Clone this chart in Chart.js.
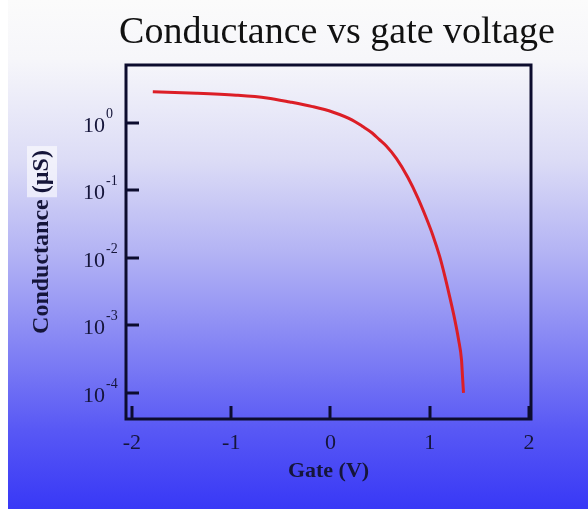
<!DOCTYPE html>
<html>
<head>
<meta charset="utf-8">
<script src="https://cdn.jsdelivr.net/npm/chart.js@4/dist/chart.umd.min.js"></script>
<style>
  html, body { margin: 0; padding: 0; background: #ffffff; }
  #wrap {
    position: absolute; left: 8px; top: 0; width: 580px; height: 509px;
    background: linear-gradient(to bottom, #fbfbfb 0px, #f6f6fa 60px, #dcdcf6 160px, #b0b0f4 260px, #8282f4 350px, #5858f5 430px, #3838f6 509px);
  }
  #c { position: absolute; left: -8px; top: 0; }
</style>
</head>
<body>
<div id="wrap"><canvas id="c" width="588" height="509"></canvas></div>
<script>
// ---- data ----
const gateVoltage = [-1.79, -1.35, -0.95, -0.64, -0.41, -0.18, 0.02, 0.22, 0.32, 0.42, 0.49, 0.56, 0.665, 0.78, 0.88, 0.96, 1.03, 1.10, 1.15, 1.20, 1.25, 1.29, 1.32, 1.33, 1.34];
const conductance = [2.88, 2.75, 2.57, 2.34, 2.04, 1.74, 1.45, 1.10, 0.891, 0.708, 0.569, 0.457, 0.295, 0.155, 0.0776, 0.0407, 0.0219, 0.0105, 0.0055, 0.00269, 0.00126, 0.000617, 0.000309, 0.000174, 0.0001];
const xTickValues = [-2, -1, 0, 1, 2];
const xTickLabels = ['-2', '-1', '0', '1', '2'];
const yTickValues = [1, 0.1, 0.01, 0.001, 0.0001];
const yTickExponents = ['0', '-1', '-2', '-3', '-4'];
const titleText = 'Conductance vs gate voltage';
const xTitle = 'Gate (V)';
const yTitleMain = 'Conductance ';
const yTitleUnit = '(µS)';

const points = gateVoltage.map((v, i) => ({ x: v, y: conductance[i] }));

const ink = '#0c0c2e';
const serif = '"Liberation Serif", "DejaVu Serif", serif';

const decor = {
  id: 'decor',
  afterDraw(chart) {
    const ctx = chart.ctx;
    const a = chart.chartArea;
    const xs = chart.scales.x, ys = chart.scales.y;
    ctx.save();
    // frame
    ctx.strokeStyle = ink;
    ctx.lineWidth = 3;
    ctx.strokeRect(a.left, a.top, a.right - a.left, a.bottom - a.top);
    // inward ticks
    xTickValues.forEach(v => {
      const px = Math.round(xs.getPixelForValue(v));
      ctx.beginPath(); ctx.moveTo(px, a.bottom); ctx.lineTo(px, a.bottom - 13); ctx.stroke();
    });
    yTickValues.forEach(v => {
      const py = Math.round(ys.getPixelForValue(v));
      ctx.beginPath(); ctx.moveTo(a.left, py); ctx.lineTo(a.left + 13, py); ctx.stroke();
    });
    // x tick labels
    ctx.fillStyle = '#15153a';
    ctx.font = '22px ' + serif;
    ctx.textAlign = 'center';
    ctx.textBaseline = 'middle';
    xTickValues.forEach((v, i) => {
      ctx.fillText(xTickLabels[i], xs.getPixelForValue(v), a.bottom + 24);
    });
    // y tick labels 10^n
    yTickValues.forEach((v, i) => {
      const py = ys.getPixelForValue(v);
      ctx.font = '22px ' + serif;
      ctx.textAlign = 'right';
      ctx.textBaseline = 'middle';
      ctx.fillText('10', a.left - 21, py + 3);
      ctx.font = '14px ' + serif;
      ctx.textAlign = 'left';
      ctx.textBaseline = 'alphabetic';
      ctx.fillText(yTickExponents[i], a.left - 20, py - 5);
    });
    // title
    ctx.fillStyle = '#111111';
    ctx.font = '38px ' + serif;
    ctx.textAlign = 'center';
    ctx.textBaseline = 'middle';
    ctx.fillText(titleText, 337, 33);
    // x axis title
    ctx.fillStyle = '#15153a';
    ctx.font = 'bold 22px ' + serif;
    ctx.fillText(xTitle, (a.left + a.right) / 2, 471);
    // y axis title (rotated) with light box behind unit
    ctx.translate(42, (a.top + a.bottom) / 2);
    ctx.rotate(-Math.PI / 2);
    ctx.font = 'bold 24px ' + serif;
    const full = yTitleMain + yTitleUnit;
    const W = ctx.measureText(full).width;
    const wu = ctx.measureText(yTitleUnit).width;
    ctx.fillStyle = 'rgba(255,255,255,0.6)';
    ctx.fillRect(W / 2 - wu - 4, -15, wu + 8, 30);
    ctx.fillStyle = '#15153a';
    ctx.textAlign = 'left';
    ctx.fillText(full, -W / 2, 0);
    ctx.restore();
  }
};

new Chart(document.getElementById('c'), {
  type: 'line',
  data: {
    datasets: [{
      label: 'Conductance',
      data: points,
      borderColor: '#dc1e26',
      borderWidth: 3,
      pointRadius: 0,
      cubicInterpolationMode: 'monotone',
      fill: false
    }]
  },
  options: {
    responsive: false,
    animation: false,
    devicePixelRatio: 1,
    layout: { padding: { left: 126, right: 57, top: 65, bottom: 90 } },
    plugins: { legend: { display: false }, title: { display: false }, tooltip: { enabled: false } },
    scales: {
      x: {
        type: 'linear', min: -2.06, max: 2.02,
        ticks: { display: false }, grid: { display: false }, border: { display: false },
        afterBuildTicks: s => { s.ticks = xTickValues.map(v => ({ value: v })); },
        afterFit: s => { s.height = 0; }
      },
      y: {
        type: 'logarithmic', min: 4.1e-5, max: 7.2,
        ticks: { display: false }, grid: { display: false }, border: { display: false },
        afterBuildTicks: s => { s.ticks = yTickValues.map(v => ({ value: v })); },
        afterFit: s => { s.width = 0; }
      }
    }
  },
  plugins: [decor]
});
</script>
</body>
</html>
